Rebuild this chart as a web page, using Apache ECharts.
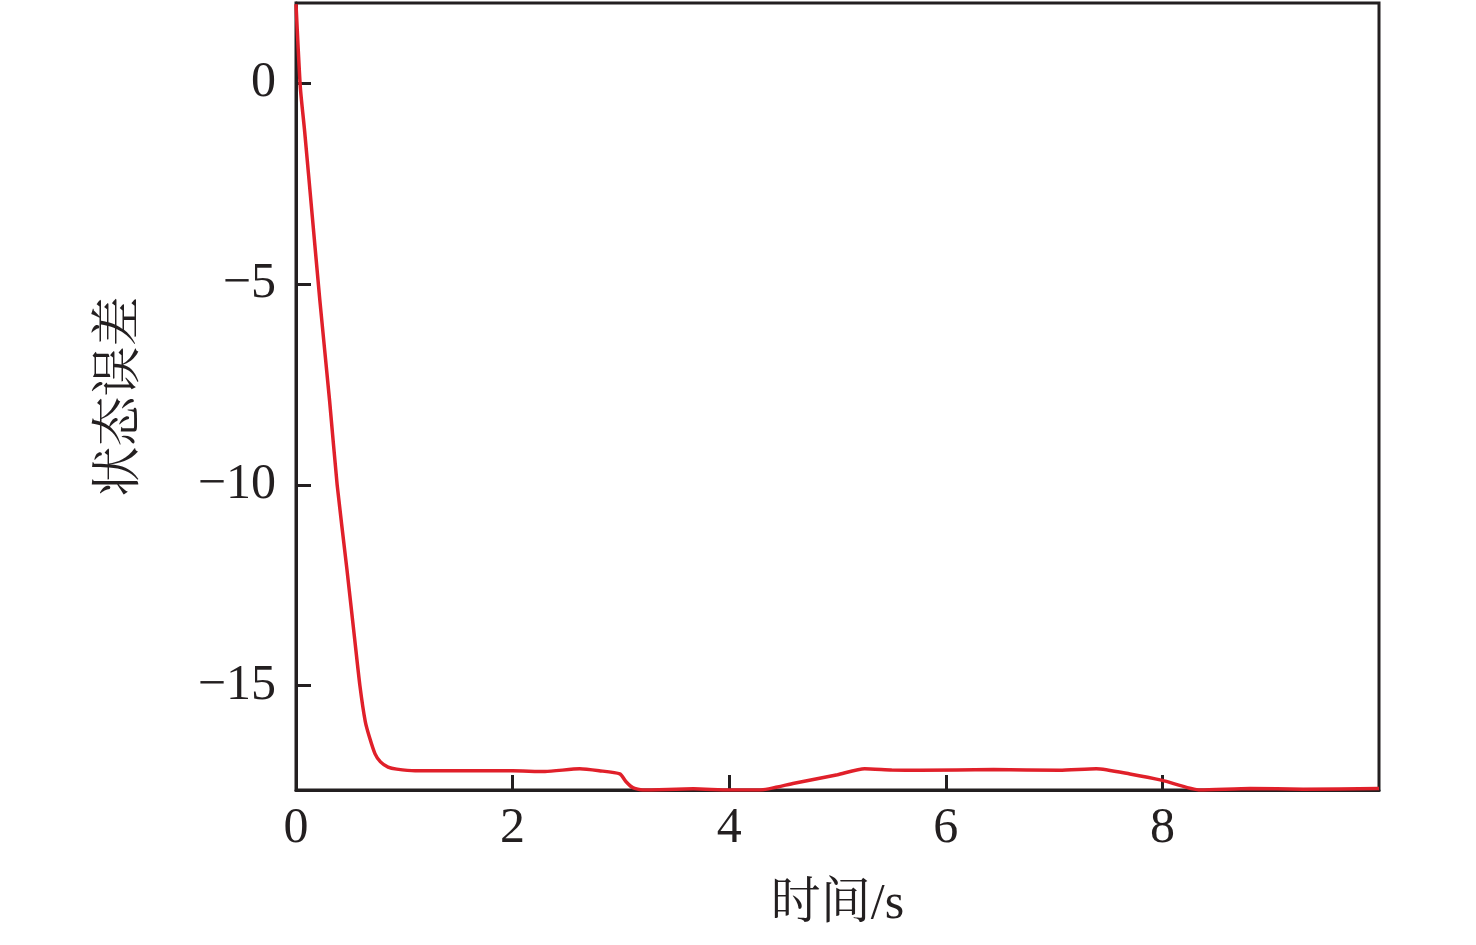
<!DOCTYPE html>
<html>
<head>
<meta charset="utf-8">
<script src="https://cdn.jsdelivr.net/npm/echarts@6/dist/echarts.min.js"></script>
<style>html,body{margin:0;padding:0;background:#fff}#c{width:1476px;height:945px}</style>
</head>
<body>
<div id="c"></div>
<script>
const xTicks = [0, 2, 4, 6, 8];
const yTicks = [0, -5, -10, -15];
const times = [0, 0.04, 0.08, 0.15, 0.22, 0.31, 0.38, 0.47, 0.54, 0.59, 0.64, 0.68, 0.73, 0.78, 0.85, 0.93, 1.1, 1.5, 2.0, 2.3, 2.62, 2.8, 2.99, 3.05, 3.11, 3.2, 3.67, 4.0, 4.28, 4.6, 5.0, 5.25, 5.5, 5.76, 6.44, 7.05, 7.39, 7.7, 8.0, 8.35, 8.81, 9.3, 10];
const errors = [1.97, -0.1, -1.2, -3.3, -5.4, -7.9, -10.0, -12.1, -13.8, -15.0, -15.9, -16.3, -16.7, -16.9, -17.03, -17.08, -17.12, -17.12, -17.12, -17.14, -17.07, -17.12, -17.2, -17.4, -17.54, -17.6, -17.57, -17.6, -17.6, -17.43, -17.22, -17.07, -17.1, -17.11, -17.09, -17.11, -17.07, -17.2, -17.36, -17.6, -17.56, -17.58, -17.56];

const data = times.map((t, i) => [t, errors[i]]);
const font = "'Liberation Serif', 'Times New Roman', serif";
const cjk = "'Liberation Serif', 'Noto Serif CJK SC', 'Noto Sans CJK SC', serif";
const axisColor = '#231f20';
const chart = echarts.init(document.getElementById('c'));
chart.setOption({
  animation: false,
  grid: {left: 296, right: 97, top: 3, bottom: 155, show: true, borderColor: axisColor, borderWidth: 3, containLabel: false},
  xAxis: {
    type: 'value', min: 0, max: 10,
    name: '时间/s', nameLocation: 'middle', nameGap: 90,
    nameTextStyle: {fontFamily: cjk, fontSize: 50, color: '#231f20'},
    axisLine: {show: true, onZero: false, lineStyle: {color: axisColor, width: 3}},
    axisTick: {show: true, inside: true, length: 15, lineStyle: {color: axisColor, width: 3}, customValues: xTicks},
    axisLabel: {fontFamily: font, fontSize: 50, color: '#231f20', margin: 14, customValues: xTicks},
    splitLine: {show: false}
  },
  yAxis: {
    type: 'value', min: -17.6, max: 2,
    name: '状态误差', nameLocation: 'middle', nameGap: 150,
    nameTextStyle: {fontFamily: cjk, fontSize: 50, color: '#231f20'},
    axisLine: {show: true, onZero: false, lineStyle: {color: axisColor, width: 3}},
    axisTick: {show: true, inside: true, length: 15, lineStyle: {color: axisColor, width: 3}, customValues: yTicks},
    axisLabel: {fontFamily: font, fontSize: 50, color: '#231f20', margin: 20, customValues: yTicks,
      formatter: v => (v < 0 ? '\u2212' + Math.abs(v) : String(v))},
    splitLine: {show: false}
  },
  series: [{
    type: 'line', data: data, smooth: 0.2, showSymbol: false, clip: true,
    lineStyle: {color: '#e0202a', width: 3.5}
  }]
});
</script>
</body>
</html>
